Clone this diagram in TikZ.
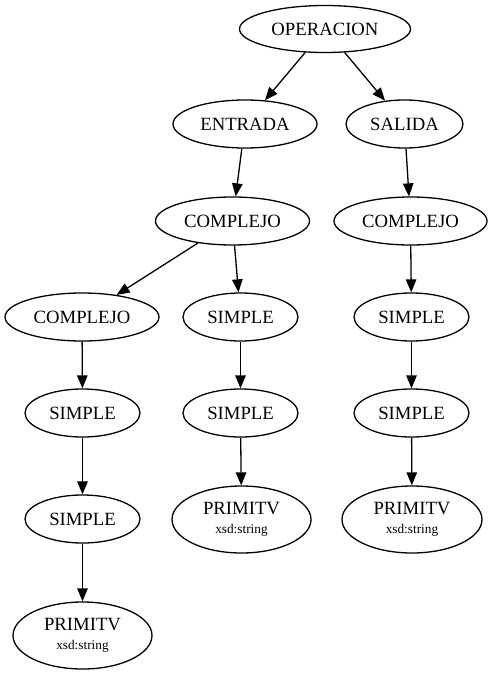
\documentclass[tikz,border=0pt]{standalone}
\usepackage{fontspec}
\setmainfont{Liberation Serif}
\usetikzlibrary{shapes.geometric,arrows.meta}
\begin{document}
\begin{tikzpicture}[x=1pt,y=-1pt,
  every node/.style={ellipse,draw,line width=1.3pt,inner sep=0pt,
    font=\fontsize{18.7}{19}\selectfont,minimum height=48pt},
  prim/.style={minimum width=139pt,minimum height=67pt,align=center},
  edge/.style={line width=1.3pt,-{Triangle[length=13pt,width=10.5pt]}}]
\useasboundingbox (0,0) rectangle (494,674);
% top ranks
\node[minimum width=171pt,minimum height=47pt] (op) at (325,29) {OPERACION};
\node[minimum width=144pt] (ent) at (245,124) {ENTRADA};
\node[minimum width=117pt] (sal) at (404.5,124) {SALIDA};
\node[minimum width=154pt] (cm) at (232.5,221) {COMPLEJO};
\node[minimum width=153pt] (cr) at (410.5,221) {COMPLEJO};
% left branch
\node[minimum width=154pt] (cl) at (82,317) {COMPLEJO};
\node[minimum width=115pt] (sl1) at (82.5,413) {SIMPLE};
\node[minimum width=115pt] (sl2) at (82.5,519) {SIMPLE};
\node[prim] (pl) at (82.5,635.5) {PRIMITV\\{\fontsize{13.3}{14}\selectfont xsd:string}};
% middle branch
\node[minimum width=115pt] (sm1) at (240.5,317) {SIMPLE};
\node[minimum width=115pt] (sm2) at (240.5,413) {SIMPLE};
\node[prim] (pm) at (241.5,519.5) {PRIMITV\\{\fontsize{13.3}{14}\selectfont xsd:string}};
% right branch
\node[minimum width=115pt] (sr1) at (411.5,317) {SIMPLE};
\node[minimum width=115pt] (sr2) at (411.5,413) {SIMPLE};
\node[prim,minimum width=140pt] (pr) at (412,519.5) {PRIMITV\\{\fontsize{13.3}{14}\selectfont xsd:string}};
% connectors
\draw[edge] (op) -- (ent);
\draw[edge] (op) -- (sal);
\draw[edge] (ent) -- (cm);
\draw[edge] (sal) -- (cr);
\draw[edge] (cm) -- (cl);
\draw[edge] (cm) -- (sm1);
\draw[edge] (cl) -- (sl1);
\draw[edge] (sl1) -- (sl2);
\draw[edge] (sl2) -- (pl);
\draw[edge] (sm1) -- (sm2);
\draw[edge] (sm2) -- (pm);
\draw[edge] (cr) -- (sr1);
\draw[edge] (sr1) -- (sr2);
\draw[edge] (sr2) -- (pr);
\end{tikzpicture}
\end{document}
